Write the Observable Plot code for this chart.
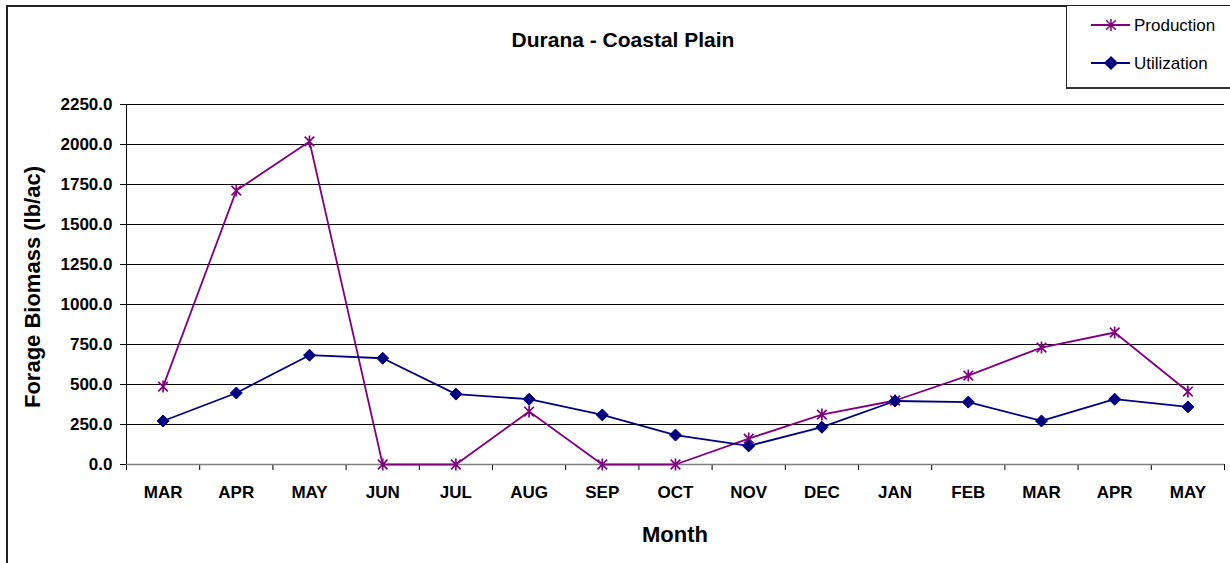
<!DOCTYPE html>
<html><head><meta charset="utf-8">
<script src="https://cdn.jsdelivr.net/npm/d3@7"></script>
<script src="https://cdn.jsdelivr.net/npm/@observablehq/plot@0.6"></script>
<style>
html,body{margin:0;padding:0;background:#fff;overflow:hidden}
#wrap{position:relative;width:1230px;height:563px;overflow:hidden;font-family:"Liberation Sans",Arial,sans-serif;color:#000}
#wrap svg.chart{position:absolute;left:0;top:0}
.frame{position:absolute;left:6px;top:5px;width:1400px;height:800px;border:2px solid #222;pointer-events:none}
.title{position:absolute;left:0;width:1246px;top:28px;text-align:center;font-weight:bold;font-size:21px}
.xlabel{position:absolute;left:0;width:1350px;top:522px;text-align:center;font-weight:bold;font-size:22px}
.ylabel{position:absolute;left:33px;top:287px;font-weight:bold;font-size:22px;white-space:nowrap;transform:translate(-50%,-50%) rotate(-90deg)}
.legend{position:absolute;left:1066px;top:5px;width:200px;height:81px;border:1.5px solid #222;border-bottom:2.5px solid #333;background:#fff}
</style></head><body>
<div id="wrap"></div>
<script>
const months = ["MAR","APR","MAY","JUN","JUL","AUG","SEP","OCT","NOV","DEC","JAN","FEB","MAR","APR","MAY"];
const production = [487, 1712, 2019, 0, 0, 331, 0, 0, 162, 312, 400, 556, 731, 825, 456];
const utilization = [272, 447, 683, 664, 440, 408, 310, 184, 116, 233, 397, 390, 272, 408, 360];
const yTicks = [0, 250, 500, 750, 1000, 1250, 1500, 1750, 2000, 2250];
const seriesNames = ["Production", "Utilization"];
const seriesColors = ["#800080", "#000080"];

const idx = months.map((_, i) => i);
const bounds = d3.range(-0.5, months.length, 1);
const prodData = idx.map(i => ({i, v: production[i]}));
const utilData = idx.map(i => ({i, v: utilization[i]}));

const asterisk = {
  draw(ctx, size) {
    const r = Math.sqrt(size / Math.PI);
    const a = r * 0.8;
    ctx.moveTo(-a, -a); ctx.lineTo(a, a);
    ctx.moveTo(-a, a); ctx.lineTo(a, -a);
    ctx.moveTo(0, -r); ctx.lineTo(0, r);
  }
};
const diamond = {
  draw(ctx, size) {
    const r = Math.sqrt(size / Math.PI);
    ctx.moveTo(0, -r); ctx.lineTo(r, 0); ctx.lineTo(0, r); ctx.lineTo(-r, 0); ctx.closePath();
  }
};

const chart = Plot.plot({
  width: 1230,
  height: 563,
  marginLeft: 126,
  marginRight: 6,
  marginTop: 104,
  marginBottom: 99,
  style: {background: "transparent", fontFamily: "'Liberation Sans', Arial, sans-serif", fontSize: "17px", fontWeight: "bold", color: "#000", overflow: "visible"},
  x: {type: "linear", domain: [-0.5, months.length - 0.5], ticks: bounds, tickSize: 6, tickFormat: () => "", label: null},
  y: {domain: [0, 2250], ticks: yTicks, tickSize: 6, tickPadding: 8, tickFormat: d => d.toFixed(1), label: null},
  marks: [
    Plot.ruleY(yTicks.filter(d => d > 0), {stroke: "#000", strokeWidth: 1}),
    Plot.ruleY([0], {stroke: "#808080", strokeWidth: 1.5}),
    Plot.ruleX([-0.5], {stroke: "#000", strokeWidth: 1}),
    Plot.text(idx, {x: d => d, text: d => months[d], frameAnchor: "bottom", dy: 33, fontSize: 17, fontWeight: "bold", fill: "#000"}),
    Plot.line(prodData, {x: "i", y: "v", stroke: seriesColors[0], strokeWidth: 1.8}),
    Plot.line(utilData, {x: "i", y: "v", stroke: seriesColors[1], strokeWidth: 1.8}),
    Plot.dot(prodData, {x: "i", y: "v", symbol: asterisk, r: 6, stroke: seriesColors[0], fill: "none", strokeWidth: 1.7}),
    Plot.dot(utilData, {x: "i", y: "v", symbol: diamond, r: 6, stroke: seriesColors[1], fill: seriesColors[1], strokeWidth: 1})
  ]
});
chart.classList.add("chart");
const wrap = document.getElementById("wrap");
wrap.appendChild(chart);

function addDiv(cls, text) {
  const d = document.createElement("div");
  d.className = cls;
  if (text) d.textContent = text;
  wrap.appendChild(d);
  return d;
}
addDiv("title", "Durana - Coastal Plain");
addDiv("xlabel", "Month");
addDiv("ylabel", "Forage Biomass (lb/ac)");
addDiv("frame");
const leg = addDiv("legend");
const ns = "http://www.w3.org/2000/svg";
const ls = document.createElementNS(ns, "svg");
ls.setAttribute("width", 200); ls.setAttribute("height", 80);
ls.style.position = "absolute"; ls.style.left = "0"; ls.style.top = "0";
const legY = [19, 57];
seriesNames.forEach((name, k) => {
  const y = legY[k], c = seriesColors[k];
  const line = document.createElementNS(ns, "line");
  line.setAttribute("x1", 24); line.setAttribute("x2", 63);
  line.setAttribute("y1", y); line.setAttribute("y2", y);
  line.setAttribute("stroke", c); line.setAttribute("stroke-width", 1.8);
  ls.appendChild(line);
  const p = document.createElementNS(ns, "path");
  const m = d3.path();
  (k === 0 ? asterisk : diamond).draw(m, Math.PI * 6 * 6);
  p.setAttribute("d", m.toString());
  p.setAttribute("transform", `translate(44,${y})`);
  p.setAttribute("stroke", c);
  p.setAttribute("stroke-width", 1.5);
  p.setAttribute("fill", k === 0 ? "none" : c);
  ls.appendChild(p);
  const t = document.createElementNS(ns, "text");
  t.setAttribute("x", 67); t.setAttribute("y", y + 6);
  t.setAttribute("font-size", 17);
  t.setAttribute("font-family", "'Liberation Sans', Arial, sans-serif");
  t.textContent = name;
  ls.appendChild(t);
});
leg.appendChild(ls);
</script>
</body></html>
